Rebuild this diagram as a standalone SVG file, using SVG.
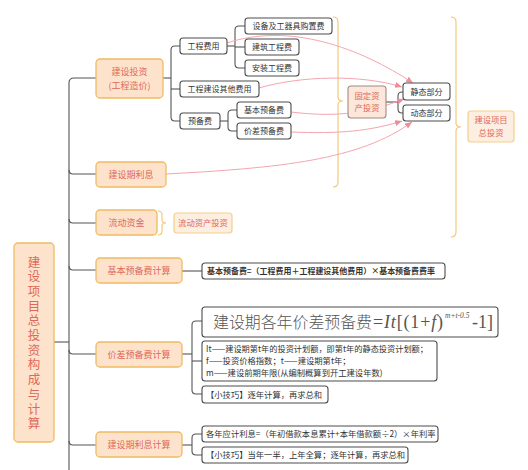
<svg xmlns="http://www.w3.org/2000/svg" width="528" height="470" viewBox="0 0 528 470">
<defs>
<marker id="ah" markerUnits="userSpaceOnUse" markerWidth="8" markerHeight="7" refX="7" refY="3" orient="auto">
<path d="M0,0 L7,3 L0,6 z" fill="#f28a98"/>
</marker>
<style>
text{font-family:"Noto Sans CJK SC","Liberation Sans",sans-serif;}
.l1 rect{fill:#fde3cb;stroke:#f0bb62;stroke-width:1.3;}
.l1 text{fill:#e0685a;font-size:9px;text-anchor:middle;}
.n rect,.b rect{fill:#fff;stroke:#4d4d4d;stroke-width:1.1;}
.n text{fill:#333;font-size:8px;text-anchor:middle;}
.b text{fill:#333;font-size:8.3px;text-anchor:start;}
.sp rect{fill:#fdeee2;stroke:#f5cf8a;stroke-width:1.2;}
.sp text{fill:#e0685a;font-size:8.3px;text-anchor:middle;}
.conn path{fill:none;stroke:#555;stroke-width:1.1;}
.pink{fill:none;stroke:#f4a5b0;stroke-width:1;marker-end:url(#ah);}
.brace{fill:none;stroke:#f5c87a;stroke-width:1.2;}
.serif{font-family:"Liberation Serif","Noto Sans CJK SC",serif;fill:#555;}
</style>
</defs>
<rect width="528" height="470" fill="#fff"/>

<g id="connectors">
<g class="conn">
<path d="M54,342 H69"/>
<path d="M96,78 H74 Q69,78 69,83 V470"/>
<path d="M69,170 Q69,174 73,174 H96"/>
<path d="M69,219 Q69,223 73,223 H96"/>
<path d="M69,266 Q69,270 73,270 H96"/>
<path d="M69,350 Q69,354 73,354 H96"/>
<path d="M69,441 Q69,445 73,445 H96"/>
<path d="M163,78 H171"/>
<path d="M180,46 H175 Q171,46 171,50 V117 Q171,121 175,121 H180"/>
<path d="M171,89 H180"/>
<path d="M227,46 H235"/>
<path d="M245,26 H239 Q235,26 235,30 V64 Q235,68 239,68 H245"/>
<path d="M235,47 H245"/>
<path d="M220,121 H228"/>
<path d="M237,110 H232 Q228,110 228,114 V127 Q228,131 232,131 H237"/>
<path d="M386,102 H398"/>
<path d="M403,92 H402 Q398,92 398,96 V109 Q398,113 402,113 H403"/>
<path d="M182,271 H202"/>
<path d="M182,354 H192"/>
<path d="M202,321 H196 Q192,321 192,325 V390 Q192,394 196,394 H202"/>
<path d="M192,361 H202"/>
<path d="M182,445 H192"/>
<path d="M202,434 H196 Q192,434 192,438 V451 Q192,455 196,455 H202"/>
</g>
<path class="brace" d="M333,17 Q338,17 338,22 V97 Q338,101 343,101 Q338,101 338,105 V182 Q338,187 333,187"/>
<path class="brace" d="M451,17 Q456,17 456,22 V123 Q456,127 461,127 Q456,127 456,131 V232 Q456,237 451,237"/>
<path class="brace" d="M158,211 Q162,211 162,215 V220 Q162,223 166,223 Q162,223 162,226 V231 Q162,235 158,235"/>
<path class="pink" d="M227,43 C290,22 360,48 413,83"/>
<path class="pink" d="M259,88 C300,76 360,74 402,87"/>
<path class="pink" d="M291,112 C340,118 370,112 404,99"/>
<path class="pink" d="M291,132 C340,134 370,131 402,121"/>
<path class="pink" d="M166,174 C280,168 360,160 412,122"/>
</g>

<g id="root">
<rect x="14" y="243" width="40" height="199" rx="4" fill="#fde3cb" stroke="#f0bb62" stroke-width="1.3"/>
<text fill="#e0685a" font-size="12.5px" text-anchor="middle"><tspan x="34" y="266.5">建</tspan><tspan x="34" y="281.2">设</tspan><tspan x="34" y="295.9">项</tspan><tspan x="34" y="310.6">目</tspan><tspan x="34" y="325.3">总</tspan><tspan x="34" y="340">投</tspan><tspan x="34" y="354.7">资</tspan><tspan x="34" y="369.4">构</tspan><tspan x="34" y="384.1">成</tspan><tspan x="34" y="398.8">与</tspan><tspan x="34" y="413.5">计</tspan><tspan x="34" y="428.2">算</tspan></text>
</g>

<g id="jsz" class="l1"><rect x="96" y="59" width="67" height="39" rx="4"/><text x="129.5" y="75">建设投资</text><text x="129.5" y="89">(工程造价)</text></g>
<g id="jsqlx" class="l1"><rect x="96" y="162" width="70" height="25" rx="4"/><text x="131" y="178">建设期利息</text></g>
<g id="ldzj" class="l1"><rect x="96" y="210" width="61" height="25" rx="4"/><text x="126.5" y="226">流动资金</text></g>
<g id="jbybfjs" class="l1"><rect x="96" y="258" width="86" height="25" rx="4"/><text x="139" y="274">基本预备费计算</text></g>
<g id="jcybfjs" class="l1"><rect x="96" y="342" width="86" height="25" rx="4"/><text x="139" y="358">价差预备费计算</text></g>
<g id="jsqlxjs" class="l1"><rect x="96" y="432" width="86" height="25" rx="4"/><text x="139" y="448">建设期利息计算</text></g>

<g id="gcfy" class="n"><rect x="180" y="38" width="47" height="16" rx="3"/><text x="203.5" y="49">工程费用</text></g>
<g id="gcjsqtfy" class="n"><rect x="180" y="81" width="79" height="16" rx="3"/><text x="219.5" y="92">工程建设其他费用</text></g>
<g id="ybf" class="n"><rect x="180" y="113" width="40" height="16" rx="3"/><text x="200" y="124">预备费</text></g>
<g id="sb" class="n"><rect x="245" y="18" width="87" height="16" rx="3"/><text x="288.5" y="29">设备及工器具购置费</text></g>
<g id="jzgcf" class="n"><rect x="245" y="39" width="54" height="16" rx="3"/><text x="272" y="50">建筑工程费</text></g>
<g id="azgcf" class="n"><rect x="245" y="60" width="54" height="16" rx="3"/><text x="272" y="71">安装工程费</text></g>
<g id="jbybf" class="n"><rect x="237" y="102" width="54" height="16" rx="3"/><text x="264" y="113">基本预备费</text></g>
<g id="jcybf" class="n"><rect x="237" y="123" width="54" height="16" rx="3"/><text x="264" y="134">价差预备费</text></g>
<g id="jtbf" class="n"><rect x="403" y="83" width="47" height="17" rx="3"/><text x="426.5" y="94.5">静态部分</text></g>
<g id="dtbf" class="n"><rect x="403" y="105" width="47" height="16" rx="3"/><text x="426.5" y="116">动态部分</text></g>

<g id="gdzctz"><rect x="348" y="86" width="38" height="32" rx="3" fill="#fde6da" stroke="#a08c80" stroke-width="1.1"/><g fill="#e0685a" font-size="8.3px" text-anchor="middle"><text x="367" y="99">固定资</text><text x="367" y="111">产投资</text></g></g>
<g id="jsxmztz" class="sp"><rect x="468" y="111" width="46" height="31" rx="3"/><text x="491" y="123">建设项目</text><text x="491" y="135.5">总投资</text></g>
<g id="ldzctz" class="sp"><rect x="174" y="213" width="58" height="20" rx="3"/><text x="203" y="226">流动资产投资</text></g>

<g id="jbgs" class="b"><rect x="202" y="263" width="243" height="16" rx="3"/><text x="207" y="274" style="font-weight:bold;font-size:8px" textLength="228" lengthAdjust="spacingAndGlyphs">基本预备费=（工程费用＋工程建设其他费用）×基本预备费费率</text></g>

<g id="jcgs"><rect x="202" y="307" width="296" height="30" rx="3" fill="#fff" stroke="#4d4d4d" stroke-width="1.1"/>
<text class="serif" x="213" y="328" style="font-size:16px;font-weight:300" textLength="159" lengthAdjust="spacingAndGlyphs">建设期各年价差预备费</text>
<text class="serif" x="373" y="328" style="font-size:18px" textLength="70" lengthAdjust="spacing">=<tspan font-style="italic">It</tspan>[(1+<tspan font-style="italic">f</tspan>)</text>
<text class="serif" x="445" y="318" style="font-size:7.5px;font-style:italic">m+t-0.5</text>
<text class="serif" x="472" y="328" style="font-size:18px">-1]</text>
</g>

<g id="jcsm" class="b"><rect x="202" y="341" width="235" height="40" rx="3"/>
<text x="206" y="352" textLength="222" lengthAdjust="spacingAndGlyphs">It——建设期第t年的投资计划额，即第t年的静态投资计划额；</text>
<text x="206" y="364">f——投资价格指数；t——建设期第t年；</text>
<text x="206" y="376">m——建设前期年限(从编制概算到开工建设年数)</text>
</g>
<g id="jcjq" class="b"><rect x="202" y="386" width="126" height="17" rx="3"/><text x="206" y="397.5">【小技巧】逐年计算，再求总和</text></g>
<g id="lxgs" class="b"><rect x="202" y="426" width="236" height="16" rx="3"/><text x="206" y="437">各年应计利息=（年初借款本息累计+本年借款额÷2）×年利率</text></g>
<g id="lxjq" class="b"><rect x="202" y="447" width="206" height="16" rx="3"/><text x="206" y="458">【小技巧】当年一半，上年全算；逐年计算，再求总和</text></g>
</svg>
